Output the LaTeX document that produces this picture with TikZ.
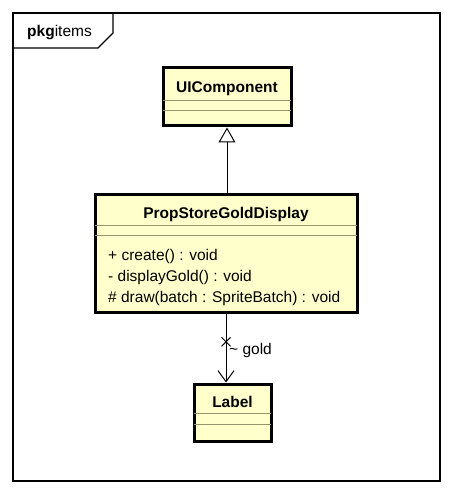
\documentclass[tikz,border=0pt]{standalone}
\usepackage{fontspec}
\setmainfont{Liberation Sans}
\usetikzlibrary{arrows.meta}
\usetikzlibrary{positioning}

\definecolor{classfill}{RGB}{255,255,204}
\definecolor{classline}{RGB}{150,150,110}

\begin{document}
\begin{tikzpicture}[x=1pt,y=-1pt,
		every node/.style={font=\fontsize{15.5}{21}\selectfont, inner sep=0pt},
		classbox/.style={draw=black, fill=classfill, line width=3pt},
		sepline/.style={draw=classline, line width=0.9pt, shorten <=1.5pt, shorten >=1.5pt},
		generalization/.style={line width=1pt, -{Triangle[open, length=15pt, width=17pt]}},
		association/.style={line width=1pt, -{Straight Barb[length=11pt, width=16pt]}}]
		\useasboundingbox (0,0) rectangle (453,494);
		% package frame
		\draw [line width=1.3pt] (13,13) rectangle (440,481);
		\draw [line width=1.3pt] (13,48) -- (98,48) -- (113,33) -- (113,13);
		\node [anchor=base west] (pkg) at (27,37) {\textbf{pkg}items};
		% classes
		\node [classbox, minimum width=128, minimum height=58] (ui) at (227,97) {};
		\node [classbox, minimum width=262, minimum height=118] (psgd) at (226,253) {};
		\node [classbox, minimum width=77, minimum height=57] (lbl) at (232.5,412.5) {};
		\node [anchor=base] (uiname) at (227,93) {\textbf{UIComponent}};
		\node [anchor=base] (psgdname) at (226,218) {\textbf{PropStoreGoldDisplay}};
		\node [anchor=base] (lblname) at (232.5,407) {\textbf{Label}};
		\draw [sepline] ([yshift=-34pt]ui.north west) -- ([yshift=-34pt]ui.north east);
		\draw [sepline] ([yshift=-44pt]ui.north west) -- ([yshift=-44pt]ui.north east);
		\draw [sepline] ([yshift=-33pt]psgd.north west) -- ([yshift=-33pt]psgd.north east);
		\draw [sepline] ([yshift=-43pt]psgd.north west) -- ([yshift=-43pt]psgd.north east);
		\draw [sepline] ([yshift=-31pt]lbl.north west) -- ([yshift=-31pt]lbl.north east);
		\draw [sepline] ([yshift=-42pt]lbl.north west) -- ([yshift=-42pt]lbl.north east);
		% operations
		\node [anchor=base west] (op1) at (108,260) {+ create() : void};
		\node [anchor=base west] (op2) at (108,281) {- displayGold() : void};
		\node [anchor=base west] (op3) at (108,302) {\# draw(batch : SpriteBatch) : void};
		% connectors
		\draw [generalization] (ui.south |- psgd.north) -- (ui.south);
		\draw [association] (psgd.south) -- coordinate[pos=0.41] (navx) (psgd.south |- lbl.north);
		\draw [line width=1pt] (navx) +(-4.5,-4.5) -- +(4.5,4.5) (navx) +(-4.5,4.5) -- +(4.5,-4.5);
		\node [anchor=base west] (gold) at (229,354) {\textasciitilde{} gold};
	\end{tikzpicture}
\end{document}
